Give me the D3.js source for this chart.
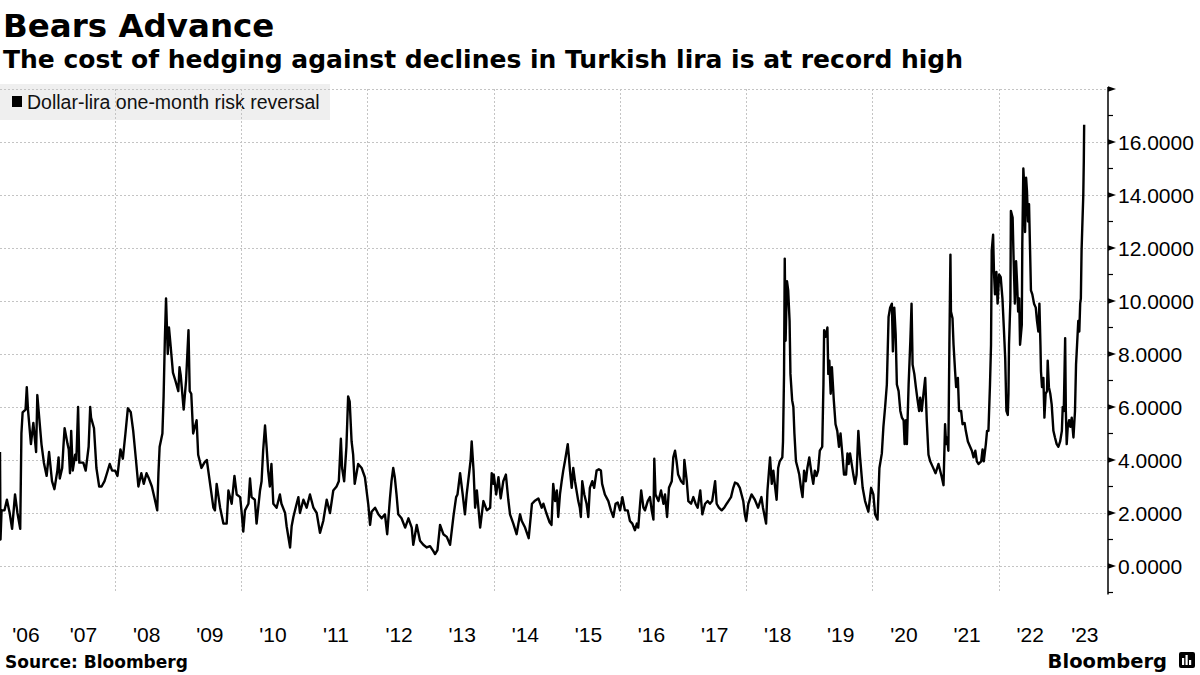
<!DOCTYPE html>
<html>
<head>
<meta charset="utf-8">
<script src="https://cdn.jsdelivr.net/npm/d3@7"></script>
<style>
  body { margin: 0; background: #fff; }
  svg { display: block; }
</style>
</head>
<body>
<svg width="1200" height="675"></svg>
<script>
// dollar-lira one-month risk reversal
const dates = [
  "2006-03-06","2006-03-09","2006-03-15","2006-04-01","2006-04-15","2006-05-01","2006-05-15","2006-06-01","2006-06-15","2006-07-01","2006-07-08","2006-07-15","2006-08-01","2006-08-08","2006-08-15","2006-09-01","2006-09-15","2006-10-01","2006-10-08","2006-10-15","2006-11-01","2006-11-15","2006-12-01","2006-12-15",
  "2007-01-01","2007-01-15","2007-02-01","2007-02-08","2007-02-15","2007-03-01","2007-03-08","2007-03-15","2007-04-01","2007-04-08","2007-04-15","2007-04-22","2007-05-01","2007-05-15","2007-05-22","2007-06-01","2007-06-08","2007-06-15","2007-07-01","2007-07-15","2007-08-01","2007-08-10","2007-08-15","2007-09-01","2007-09-15","2007-10-01","2007-10-15","2007-11-01","2007-11-15","2007-12-01","2007-12-15",
  "2008-01-01","2008-01-15","2008-02-01","2008-02-15","2008-03-01","2008-03-15","2008-04-01","2008-04-15","2008-05-01","2008-05-15","2008-06-01","2008-06-15","2008-07-01","2008-07-15","2008-08-01","2008-08-15","2008-09-01","2008-09-08","2008-09-15","2008-10-01","2008-10-08","2008-10-15","2008-10-22","2008-11-01","2008-11-08","2008-11-15","2008-12-01","2008-12-15",
  "2009-01-01","2009-01-08","2009-01-15","2009-02-01","2009-02-15","2009-03-01","2009-03-08","2009-03-17","2009-03-28","2009-04-17","2009-04-26","2009-05-15","2009-06-01","2009-06-15","2009-07-04","2009-07-23","2009-08-01","2009-08-11","2009-08-31","2009-09-19","2009-10-08","2009-10-18","2009-11-06","2009-11-22","2009-12-05","2009-12-25",
  "2010-01-03","2010-01-12","2010-01-22","2010-02-11","2010-02-20","2010-03-01","2010-03-20","2010-03-30","2010-04-19","2010-04-28","2010-05-07","2010-05-18","2010-05-27","2010-06-05","2010-06-15","2010-06-24","2010-07-05","2010-07-24","2010-08-12","2010-08-21","2010-09-11","2010-09-20","2010-10-10","2010-10-19","2010-10-29","2010-11-17","2010-11-27","2010-12-06","2010-12-26",
  "2011-01-14","2011-02-02","2011-02-22","2011-03-13","2011-04-01","2011-04-20","2011-05-10","2011-05-29","2011-06-17","2011-07-06","2011-07-19","2011-07-31","2011-08-07","2011-08-19","2011-09-01","2011-09-11","2011-09-20","2011-10-01","2011-10-10","2011-10-19","2011-11-08","2011-11-28","2011-12-17",
  "2012-01-06","2012-01-16","2012-01-25","2012-02-14","2012-03-04","2012-03-23","2012-04-11","2012-04-24","2012-05-10","2012-05-19","2012-05-29","2012-06-07","2012-06-17","2012-06-27","2012-07-16","2012-08-06","2012-08-25","2012-09-13","2012-09-22","2012-10-12","2012-10-31","2012-11-19","2012-12-09","2012-12-28",
  "2013-01-17","2013-01-26","2013-02-09","2013-02-24","2013-03-15","2013-04-04","2013-04-23","2013-05-13","2013-05-28","2013-06-05","2013-06-20","2013-07-05","2013-07-18","2013-07-28","2013-08-13","2013-08-20","2013-08-26","2013-09-06","2013-09-15","2013-09-25","2013-10-14","2013-11-02","2013-11-22","2013-12-11","2013-12-20","2013-12-30",
  "2014-01-01","2014-01-15","2014-01-28","2014-02-10","2014-02-25","2014-03-12","2014-03-26","2014-04-05","2014-04-24","2014-05-13","2014-06-02","2014-06-12","2014-07-01","2014-07-22","2014-08-10","2014-08-25","2014-09-16","2014-10-05","2014-10-15","2014-11-01","2014-11-20","2014-12-01","2014-12-11","2014-12-22",
  "2015-01-01","2015-01-09","2015-01-19","2015-01-29","2015-02-07","2015-02-18","2015-03-05","2015-03-12","2015-03-18","2015-03-28","2015-04-06","2015-04-16","2015-05-05","2015-05-14","2015-05-20","2015-05-28","2015-06-09","2015-06-22","2015-07-02","2015-07-11","2015-07-25","2015-08-05","2015-08-19","2015-09-01","2015-09-13","2015-09-20","2015-10-06","2015-10-26","2015-11-10","2015-11-24","2015-12-07","2015-12-19",
  "2016-01-02","2016-01-15","2016-01-30","2016-02-15","2016-02-28","2016-03-13","2016-03-28","2016-04-08","2016-04-16","2016-05-03","2016-05-16","2016-05-25","2016-06-10","2016-06-23","2016-07-03","2016-07-13","2016-07-18","2016-07-25","2016-08-11","2016-08-26","2016-09-09","2016-09-18","2016-09-30","2016-10-11","2016-10-27","2016-11-05","2016-11-15","2016-11-24","2016-12-03","2016-12-20",
  "2017-01-03","2017-01-08","2017-01-22","2017-01-31","2017-02-16","2017-03-01","2017-03-14","2017-03-26","2017-04-10","2017-04-22","2017-05-08","2017-05-23","2017-06-05","2017-06-18","2017-07-05","2017-07-14","2017-07-27","2017-08-12","2017-08-27","2017-09-10","2017-09-20","2017-10-05","2017-10-18","2017-10-28","2017-11-12","2017-11-25","2017-12-05","2017-12-15","2017-12-24",
  "2018-01-01","2018-01-13","2018-02-01","2018-02-20","2018-03-11","2018-03-30","2018-04-08","2018-04-26","2018-05-04","2018-05-19","2018-05-29","2018-06-07","2018-06-17","2018-06-26","2018-07-05","2018-07-14","2018-07-29","2018-08-02","2018-08-08","2018-08-12","2018-08-17","2018-08-25","2018-09-01","2018-09-09","2018-09-14","2018-09-24","2018-10-01","2018-10-07","2018-10-16","2018-10-26","2018-11-04","2018-11-14","2018-11-23","2018-12-02","2018-12-12","2018-12-21",
  "2019-01-01","2019-01-15","2019-01-24","2019-02-02","2019-02-12","2019-02-21","2019-03-03","2019-03-17","2019-03-24","2019-03-28","2019-04-06","2019-04-16","2019-04-21","2019-04-27","2019-05-05","2019-05-12","2019-05-23","2019-06-02","2019-06-12","2019-06-22","2019-07-01","2019-07-11","2019-07-21","2019-08-02","2019-08-10","2019-08-17","2019-08-25","2019-09-13","2019-09-23","2019-10-02","2019-10-12","2019-10-22","2019-11-06","2019-11-20","2019-12-09","2019-12-25",
  "2020-01-07","2020-01-17","2020-01-31","2020-02-11","2020-02-25","2020-03-05","2020-03-15","2020-03-25","2020-04-04","2020-04-13","2020-04-23","2020-04-29","2020-05-07","2020-05-15","2020-05-22","2020-06-01","2020-06-11","2020-06-20","2020-06-30","2020-07-06","2020-07-14","2020-07-19","2020-07-29","2020-08-08","2020-08-15","2020-08-21","2020-08-31","2020-09-09","2020-09-19","2020-09-28","2020-10-04","2020-10-13","2020-10-23","2020-11-02","2020-11-11","2020-11-21","2020-12-01","2020-12-15",
  "2021-01-01","2021-01-18","2021-02-06","2021-02-16","2021-02-25","2021-03-03","2021-03-10","2021-03-16","2021-03-22","2021-03-28","2021-03-31","2021-04-09","2021-04-15","2021-04-24","2021-04-30","2021-05-10","2021-05-17","2021-05-29","2021-06-06","2021-06-18","2021-06-25","2021-07-07","2021-07-20","2021-07-30","2021-08-09","2021-08-19","2021-08-28","2021-09-07","2021-09-22","2021-09-30","2021-10-07","2021-10-19","2021-10-26","2021-11-03","2021-11-12","2021-11-18","2021-11-22","2021-11-30","2021-12-05","2021-12-11","2021-12-19","2021-12-26",
  "2022-01-04","2022-01-13","2022-01-23","2022-01-31","2022-02-08","2022-02-15","2022-02-23","2022-02-27","2022-03-02","2022-03-10","2022-03-13","2022-03-23","2022-03-28","2022-04-05","2022-04-12","2022-04-18","2022-04-24","2022-04-30","2022-05-05","2022-05-15","2022-05-18","2022-05-24","2022-05-30","2022-06-03","2022-06-09","2022-06-14","2022-06-20","2022-06-26","2022-07-02","2022-07-07","2022-07-15","2022-07-25","2022-08-04","2022-08-11","2022-08-19","2022-08-25","2022-08-31","2022-09-03","2022-09-09","2022-09-17","2022-09-23","2022-09-30","2022-10-08","2022-10-12","2022-10-19","2022-10-27","2022-11-04","2022-11-14","2022-11-23","2022-12-03","2022-12-13","2022-12-23",
  "2023-01-02","2023-01-07","2023-01-13","2023-01-21","2023-01-25","2023-01-30","2023-02-05","2023-02-13","2023-02-20","2023-02-28","2023-03-10","2023-03-19","2023-03-25","2023-03-31","2023-04-07","2023-04-13","2023-04-18","2023-04-22","2023-04-26","2023-04-30","2023-05-06","2023-05-09","2023-05-11"
]

const values = [
  4.3,1.0,2.1,2.1,2.5,2.0,1.4,2.7,2.0,1.4,5.0,5.8,5.9,6.75,5.9,4.6,5.4,4.3,6.45,5.9,4.6,3.9,3.4,4.3,
  3.2,2.9,3.6,4.1,3.3,3.7,4.5,5.2,4.6,4.4,3.5,5.1,3.6,4.2,4.0,6.0,3.9,3.9,3.9,3.6,4.5,6.0,5.6,5.2,3.7,3.0,3.0,3.2,3.5,3.85,3.6,
  3.6,3.4,4.4,4.05,5.0,5.95,5.8,5.1,4.0,3.0,3.5,3.1,3.5,3.3,3.0,2.6,2.1,3.5,4.5,5.0,6.4,8.5,10.1,8.0,9.0,8.5,7.3,7.0,
  6.6,7.5,7.2,5.9,7.0,8.9,6.6,6.5,5.0,5.5,4.2,3.7,3.9,4.0,3.1,2.2,2.1,3.1,2.2,1.6,1.6,2.85,2.35,3.4,2.7,2.6,
  2.0,1.3,2.1,2.35,3.3,2.6,2.5,1.6,2.85,3.2,4.35,5.3,4.5,3.6,3.0,3.85,2.35,2.2,2.7,2.35,2.0,1.5,0.7,1.5,1.85,2.35,2.6,2.0,2.5,
  2.2,2.7,2.2,2.0,1.25,1.7,2.5,2.0,2.85,3.0,3.2,4.8,3.7,3.2,4.5,6.4,6.2,4.7,4.2,3.1,3.85,3.7,3.35,
  2.3,1.55,2.05,2.2,1.95,1.8,1.95,1.2,2.55,3.2,3.7,3.35,2.7,1.95,1.8,1.45,1.8,1.45,0.8,1.55,0.95,0.8,0.7,0.75,
  0.55,0.45,0.6,1.55,1.2,1.1,0.8,1.9,2.6,2.7,3.5,2.7,1.95,2.7,3.6,4.0,4.7,3.6,2.2,2.85,1.45,2.45,2.1,2.2,3.5,3.1,
  3.45,2.7,3.35,2.55,3.2,3.45,2.5,1.95,1.6,1.2,1.95,1.7,1.45,1.05,2.35,2.45,2.55,2.2,2.35,2.0,1.65,1.55,3.1,2.45,
  2.85,1.85,2.7,3.2,3.6,4.0,4.6,4.1,3.6,2.95,3.7,3.2,2.45,2.2,1.85,3.2,2.7,2.35,1.85,2.95,3.2,2.95,3.6,3.65,3.6,3.1,2.7,2.45,2.1,1.85,2.35,2.4,
  2.1,2.6,2.1,2.1,1.7,1.6,1.35,1.6,1.45,2.85,2.2,2.1,2.45,2.6,2.1,1.75,4.05,2.7,2.45,2.85,2.35,2.7,1.85,2.95,3.2,4.1,4.35,3.95,3.45,3.2,
  3.1,4.0,3.2,2.45,2.35,2.6,2.35,2.2,2.85,1.95,2.35,2.45,2.35,2.45,3.2,2.35,2.2,2.1,2.2,2.35,2.45,2.6,2.95,3.15,3.1,2.95,2.7,2.45,1.95,
  1.7,2.35,2.7,2.5,2.2,2.6,2.2,1.6,2.85,4.1,3.1,3.6,3.0,2.5,3.7,3.95,4.1,4.7,7.25,11.6,8.5,10.75,10.4,9.25,7.25,6.25,6.0,5.0,3.95,3.7,3.45,2.95,2.6,3.6,3.2,3.7,
  4.1,3.45,3.1,3.6,3.4,3.6,4.35,4.5,6.85,8.9,8.65,9.0,7.25,7.75,6.5,7.5,6.25,5.35,5.1,4.5,5.0,4.25,3.45,3.45,4.25,3.85,4.25,3.45,3.1,3.45,5.1,4.1,2.95,2.45,2.05,2.95,
  2.7,1.95,1.75,3.7,4.25,5.25,6.0,6.85,9.4,9.75,9.9,8.1,9.75,8.75,6.85,6.6,5.85,5.6,5.5,4.6,5.5,4.6,6.85,8.5,9.9,7.6,7.25,6.75,6.25,5.85,6.35,5.85,6.5,7.1,5.5,4.2,3.95,3.75,
  3.5,3.85,3.35,3.05,5.35,4.6,4.85,4.35,8.35,11.75,9.6,9.35,8.35,7.35,6.75,7.1,5.85,5.85,5.35,5.4,5.1,4.7,4.5,4.35,4.1,4.35,3.95,3.85,3.95,4.4,3.95,4.6,5.1,5.1,6.85,8.35,11.9,12.5,11.1,10.25,11.1,9.9,
  11.0,10.9,10.1,9.0,7.85,5.85,5.7,6.5,8.35,10.0,13.4,13.15,11.75,9.9,11.5,10.65,9.6,10.1,8.35,9.1,12.15,15.0,14.25,12.6,14.65,14.15,13.0,13.65,11.9,10.4,10.25,9.9,9.75,9.25,8.85,9.9,8.35,7.35,6.75,7.1,5.6,6.5,6.6,7.75,6.75,6.5,6.1,5.1,4.85,4.6,4.5,4.7,
  5.1,6.0,5.85,8.6,5.85,4.6,5.25,5.5,5.25,5.6,4.85,5.85,7.6,8.35,9.25,8.85,9.9,10.1,11.9,12.75,14.0,15.3,16.65
]

const yearLabels = ["'06","'07","'08","'09","'10","'11","'12","'13","'14","'15","'16","'17","'18","'19","'20","'21","'22","'23"]
const yTicks = [0, 2, 4, 6, 8, 10, 12, 14, 16, 18]
const gridYears = [2008, 2010, 2012, 2014, 2016, 2018, 2020, 2022]

if (dates.length !== values.length) throw new Error("dates/values mismatch " + dates.length + " " + values.length)

let svg = d3.select("svg")
let parse = d3.timeParse("%Y-%m-%d")
let data = dates.map((d, i) => ({date: parse(d), value: values[i]}))

let plotRight = 1108
let x = d3.scaleTime()
    .domain([parse("2006-03-06"), parse("2023-09-26")])
    .range([0, plotRight])
let y = d3.scaleLinear().domain([-1, 18]).range([592.5, 89])

// titles
svg.append("text")
    .attr("x", 3).attr("y", 37)
    .attr("font-family", "DejaVu Sans").attr("font-weight", "bold")
    .attr("font-size", 32.5)
    .text("Bears Advance")

svg.append("text")
    .attr("x", 3).attr("y", 68)
    .attr("font-family", "DejaVu Sans").attr("font-weight", "bold")
    .attr("font-size", 25)
    .text("The cost of hedging against declines in Turkish lira is at record high")

// legend box sits under the grid
let legend = svg.append("g")
legend.append("rect")
    .attr("x", 0).attr("y", 84).attr("width", 330).attr("height", 36)
    .attr("fill", "#efefef")
legend.append("rect")
    .attr("x", 12).attr("y", 96).attr("width", 10).attr("height", 11)
    .attr("fill", "#000")
legend.append("text")
    .attr("x", 27).attr("y", 109)
    .attr("font-family", "Liberation Sans").attr("font-size", 19.5)
    .attr("fill", "#111")
    .text("Dollar-lira one-month risk reversal")

// grid
let grid = svg.append("g")
    .attr("stroke", "#c4c4c4").attr("stroke-width", 1).attr("stroke-dasharray", "2,2")

grid.selectAll(".hgrid")
  .data(yTicks)
  .enter().append("line")
    .attr("class", "hgrid")
    .attr("x1", 0).attr("x2", plotRight)
    .attr("y1", d => Math.round(y(d)) + 0.5).attr("y2", d => Math.round(y(d)) + 0.5)

grid.selectAll(".vgrid")
  .data(gridYears)
  .enter().append("line")
    .attr("class", "vgrid")
    .attr("x1", d => Math.round(x(new Date(d, 0, 1))) + 0.5)
    .attr("x2", d => Math.round(x(new Date(d, 0, 1))) + 0.5)
    .attr("y1", y(18)).attr("y2", y(-1))

// the series
let line = d3.line()
    .x(d => x(d.date))
    .y(d => y(d.value))

svg.append("path")
    .datum(data)
    .attr("fill", "none")
    .attr("stroke", "#000")
    .attr("stroke-width", 2.4)
    .attr("stroke-linejoin", "round")
    .attr("d", line)

// right axis
let axis = svg.append("g").attr("transform", "translate(" + plotRight + ",0)")
axis.append("line")
    .attr("x1", 0).attr("x2", 0)
    .attr("y1", y(18) - 2).attr("y2", y(-1) + 2)
    .attr("stroke", "#000").attr("stroke-width", 1.5)

axis.selectAll(".major")
  .data(yTicks)
  .enter().append("path")
    .attr("class", "major")
    .attr("transform", d => "translate(0," + y(d) + ")")
    .attr("d", "M0,-2.8L8,0L0,2.8Z")
    .attr("fill", "#000")

axis.selectAll(".minor")
  .data(d3.range(-1, 18, 2))
  .enter().append("line")
    .attr("class", "minor")
    .attr("x1", 0).attr("x2", 5)
    .attr("y1", d => y(d)).attr("y2", d => y(d))
    .attr("stroke", "#000").attr("stroke-width", 1.2)

axis.selectAll(".ylab")
  .data(yTicks.filter(d => d < 18))
  .enter().append("text")
    .attr("class", "ylab")
    .attr("x", 10).attr("y", d => y(d)).attr("dy", "0.36em")
    .attr("font-family", "Liberation Sans").attr("font-size", 21)
    .text(d => d3.format(".4f")(d))

// year labels sit in the middle of the visible part of each year
let [d0, d1] = x.domain()
svg.selectAll(".xlab")
  .data(yearLabels)
  .enter().append("text")
    .attr("class", "xlab")
    .attr("x", (d, i) => {
      let start = new Date(2006 + i, 0, 1), end = new Date(2007 + i, 0, 1)
      if (start < d0) start = d0
      if (end > d1) end = d1
      return (x(start) + x(end)) / 2
    })
    .attr("y", 642)
    .attr("text-anchor", "middle")
    .attr("font-family", "Liberation Sans").attr("font-size", 21)
    .text(d => d)

// footer
svg.append("text")
    .attr("x", 5).attr("y", 668)
    .attr("font-family", "DejaVu Sans").attr("font-weight", "bold")
    .attr("font-size", 17)
    .text("Source: Bloomberg")

svg.append("text")
    .attr("x", 1167).attr("y", 668)
    .attr("text-anchor", "end")
    .attr("font-family", "DejaVu Sans").attr("font-weight", "bold")
    .attr("font-size", 19.5)
    .text("Bloomberg")

let logo = svg.append("g").attr("transform", "translate(1179,652)")
logo.append("rect")
    .attr("width", 16).attr("height", 16).attr("rx", 2)
    .attr("fill", "#000")
logo.selectAll(".bar")
  .data([[3, 6], [6.5, 3], [10, 8]])
  .enter().append("rect")
    .attr("class", "bar")
    .attr("x", d => d[0]).attr("y", d => d[1])
    .attr("width", 2.2).attr("height", d => 13 - d[1])
    .attr("fill", "#fff")
</script>
</body>
</html>
